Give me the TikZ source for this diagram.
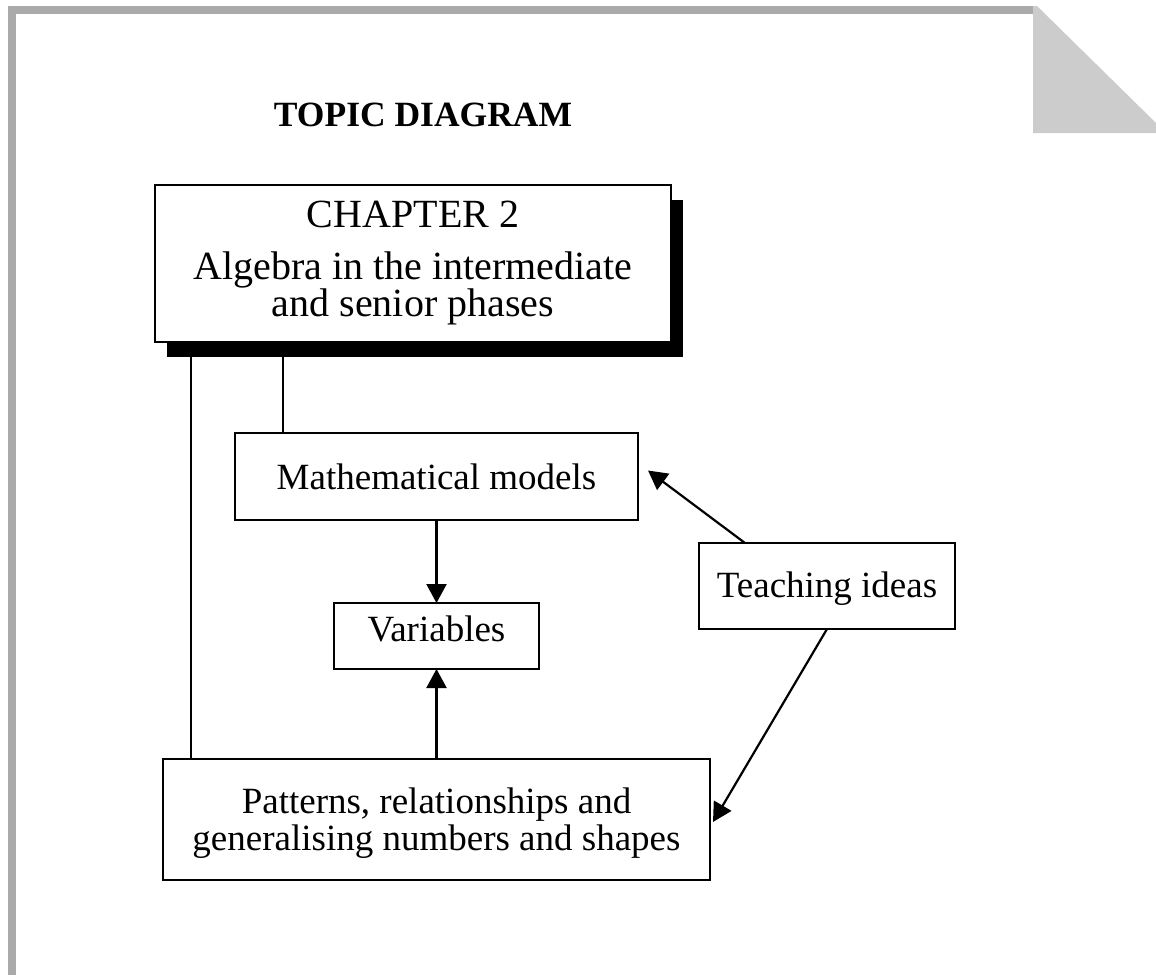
\documentclass[tikz,border=0pt]{standalone}
\usepackage{fontspec}
\setmainfont{Liberation Serif}
\usepackage{tikz}
\usepackage{xcolor}
\usetikzlibrary{arrows.meta}
\usetikzlibrary{shadows}

\definecolor{pagegrey}{HTML}{AAAAAA}
\definecolor{foldgrey}{HTML}{CCCCCC}

\begin{document}
\begin{tikzpicture}[x=1pt, y=-1pt,
    box/.style={draw, line width=2.2pt, fill=white, inner sep=0pt, outer sep=0pt,
                align=center, font=\fontsize{37}{37}\selectfont},
    link/.style={line width=2.2pt},
    arrowlink/.style={line width=2.2pt, -{Triangle[length=19pt, width=20pt]}}
]
    %% 一些宏定义
    \def\shadowx{12pt}
    \def\shadowy{-15pt}
    %% 画布与背景
    \useasboundingbox (0,0) rectangle (1156,975);
    \fill[white] (0,0) rectangle (1156,975);
    %% 灰色页边和折角
    \fill[pagegrey] (8,6) rectangle (1035,14);
    \fill[pagegrey] (8,6) rectangle (16,975);
    \fill[foldgrey] (1033,6) -- (1037,6) -- (1156,123) -- (1156,133) -- (1033,133) -- cycle;

    %% 标题
    \node[anchor=base, font=\bfseries\fontsize{35.5}{36}\selectfont] (title) at (423,126) {TOPIC DIAGRAM};

    %% 各个方框
    \node[box, font=\fontsize{40}{37}\selectfont, minimum width=516pt, minimum height=157pt,
          drop shadow={fill=black, opacity=1, shadow xshift=\shadowx, shadow yshift=\shadowy}]
        (chap) at (413,263.5) {CHAPTER 2\\[15pt]Algebra in the intermediate\\and senior phases};
    \node[box, minimum width=403pt, minimum height=87pt] (models) at (436.5,476.5) {Mathematical models};
    \node[box, minimum width=205pt, minimum height=66pt, text depth=14pt] (vars) at (436.5,636) {Variables};
    \node[box, minimum width=256pt, minimum height=86pt, text depth=2pt] (teach) at (827,586) {Teaching ideas};
    \node[box, minimum width=547pt, minimum height=121pt, text depth=0pt] (pat) at (436.5,819.5)
        {Patterns, relationships and\\generalising numbers and shapes};

    %% 连线
    \coordinate (leftdrop) at ([xshift=36pt]chap.south west);
    \coordinate (middrop) at ([xshift=128pt]chap.south west);
    \draw[link] (leftdrop) -- (leftdrop |- pat.north);
    \draw[link] (middrop) -- (middrop |- models.north);

    %% 箭头
    \draw[arrowlink] (models) -- (vars);
    \draw[arrowlink] (pat) -- (vars);
    \draw[arrowlink] ([xshift=46pt]teach.north west) -- ([xshift=10pt, yshift=6pt]models.east);
    \draw[arrowlink] (teach.south) -- ([xshift=3pt, yshift=-2.5pt]pat.east);
\end{tikzpicture}
\end{document}
